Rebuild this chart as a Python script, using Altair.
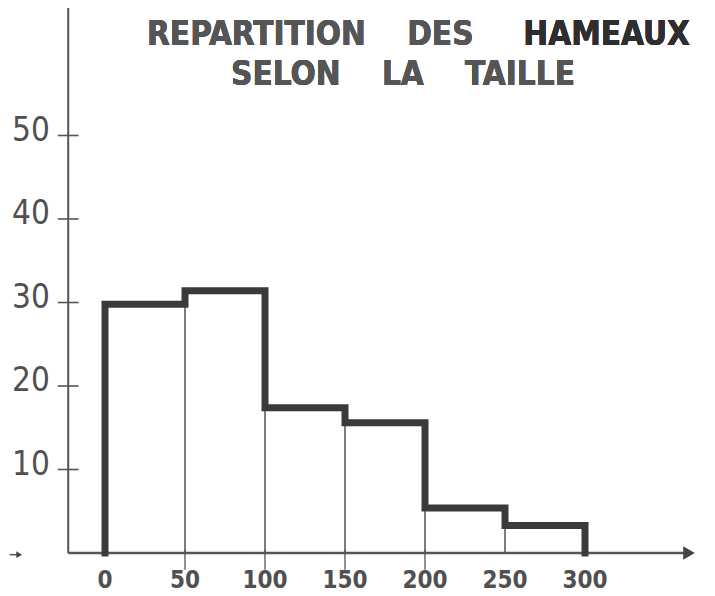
import altair as alt
import pandas as pd

# ---- data ----
bin_lo = [0, 50, 100, 150, 200, 250]
bin_hi = [50, 100, 150, 200, 250, 300]
counts = [29.8, 31.4, 17.4, 15.6, 5.4, 3.3]

x_ticks = [0, 50, 100, 150, 200, 250, 300]
x_tick_labels = ["0", "50", "100", "150", "200", "250", "300"]
x_tick_marks = [50, 100, 150, 200]
y_ticks = [10, 20, 30, 40, 50]
y_tick_labels = ["10", "20", "30", "40", "50"]

NB = "\u00a0" * 4
title_line1a = "REPARTITION" + NB + "DES"
title_line1b = "HAMEAUX"
title_line2 = "SELON" + NB + "LA" + NB + "TAILLE"

# ---- layout ----
W, H = 699, 588
PX_X, PX_Y = 1.6, 8.35
X0_PX, Y0_PX = 97, 545
XMIN = -X0_PX / PX_X
XMAX = XMIN + W / PX_X
YMAX = Y0_PX / PX_Y
YMIN = YMAX - H / PX_Y
YAXIS_X = -23
XAXIS_END = 362

FONT = "Liberation Sans Narrow, DejaVu Sans Condensed, Liberation Sans, sans-serif"

xs = alt.Scale(domain=[XMIN, XMAX], nice=False, zero=False)
ys = alt.Scale(domain=[YMIN, YMAX], nice=False, zero=False)

bars = pd.DataFrame({"lo": bin_lo, "hi": bin_hi, "n": counts, "base": [0] * len(counts)})

# outline of the histogram (step profile)
ox, oy = [bin_lo[0]], [0]
for lo, hi, c in zip(bin_lo, bin_hi, counts):
    ox += [lo, hi]
    oy += [c, c]
ox.append(bin_hi[-1])
oy.append(0)
outline = pd.DataFrame({"px": ox, "py": oy, "i": list(range(len(ox)))})

xt = pd.DataFrame({"xv": x_ticks, "label": x_tick_labels})
yt = pd.DataFrame({"yv": y_ticks, "label": y_tick_labels,
                   "xa": [YAXIS_X - 6.5] * len(y_ticks), "xb": [YAXIS_X + 6.5] * len(y_ticks)})
xm = pd.DataFrame({"xv": x_tick_marks, "ya": [0.4] * len(x_tick_marks), "yb": [-2.0] * len(x_tick_marks)})

# axis lines (decoration built from layout constants)
axes_df = pd.DataFrame({
    "xa": [YAXIS_X, YAXIS_X, XMIN + 1],
    "xb": [YAXIS_X, XAXIS_END, XMIN + 7],
    "ya": [0, 0, -0.2],
    "yb": [YMAX, 0, -0.2],
    "w": [2.0, 2.5, 1.5],
})
arrows_df = pd.DataFrame({"xv": [XAXIS_END + 3, XMIN + 7], "yv": [0, -0.2], "s": [180, 45]})

rects = alt.Chart(bars).mark_rect(filled=False, stroke="#666", strokeWidth=1.2).encode(
    x=alt.X("lo:Q", scale=xs, axis=None),
    x2="hi:Q",
    y=alt.Y("n:Q", scale=ys, axis=None),
    y2="base:Q",
)

profile = alt.Chart(outline).mark_line(
    color="#3a3a3a", strokeWidth=7, strokeJoin="miter", strokeCap="square"
).encode(
    x=alt.X("px:Q", scale=xs, axis=None),
    y=alt.Y("py:Q", scale=ys, axis=None),
    order="i:Q",
)

axes_lines = alt.Chart(axes_df).mark_rule(color="#555").encode(
    x=alt.X("xa:Q", scale=xs, axis=None),
    x2="xb:Q",
    y=alt.Y("ya:Q", scale=ys, axis=None),
    y2="yb:Q",
    strokeWidth=alt.StrokeWidth("w:Q", scale=None, legend=None),
)

arrows = alt.Chart(arrows_df).mark_point(
    shape="triangle-right", filled=True, color="#444", opacity=1
).encode(
    x=alt.X("xv:Q", scale=xs, axis=None),
    y=alt.Y("yv:Q", scale=ys, axis=None),
    size=alt.Size("s:Q", scale=None, legend=None),
)

yticks = alt.Chart(yt).mark_rule(color="#555", strokeWidth=1.6).encode(
    x=alt.X("xa:Q", scale=xs, axis=None),
    x2="xb:Q",
    y=alt.Y("yv:Q", scale=ys, axis=None),
)
xticks = alt.Chart(xm).mark_rule(color="#555", strokeWidth=1.3).encode(
    x=alt.X("xv:Q", scale=xs, axis=None),
    y=alt.Y("ya:Q", scale=ys, axis=None),
    y2="yb:Q",
)

ylabels = alt.Chart(yt).mark_text(
    align="right", baseline="middle", dx=-8, dy=-5, font=FONT, fontSize=33, color="#505050"
).encode(
    x=alt.X("xa:Q", scale=xs, axis=None),
    y=alt.Y("yv:Q", scale=ys, axis=None),
    text="label:N",
)
xlabels = alt.Chart(xt).mark_text(
    align="center", baseline="middle", font=FONT, fontSize=24, fontWeight="bold", color="#505050"
).encode(
    x=alt.X("xv:Q", scale=xs, axis=None),
    y=alt.value(Y0_PX + 28),
    text="label:N",
)

t1a = alt.Chart(bars).mark_text(
    align="left", baseline="middle", font=FONT, fontSize=33, fontWeight="bold", color="#555555",
    text=title_line1a,
).encode(x=alt.value(139), y=alt.value(27))
t1b = alt.Chart(bars).mark_text(
    align="right", baseline="middle", font=FONT, fontSize=33, fontWeight="bold", color="#2e2e2e",
    text=title_line1b,
).encode(x=alt.value(682), y=alt.value(27))
t2 = alt.Chart(bars).mark_text(
    align="center", baseline="middle", font=FONT, fontSize=33, fontWeight="bold", color="#555555",
    text=title_line2,
).encode(x=alt.value(395), y=alt.value(67))

chart = alt.layer(
    rects, axes_lines, xticks, yticks, profile, arrows,
    ylabels, xlabels, t1a, t1b, t2,
).properties(
    width=W, height=H, padding=0, autosize=alt.AutoSizeParams(type="none"), background="white"
).configure_view(stroke=None)

chart.save("out.html", embed_options={"renderer": "svg", "actions": False})
